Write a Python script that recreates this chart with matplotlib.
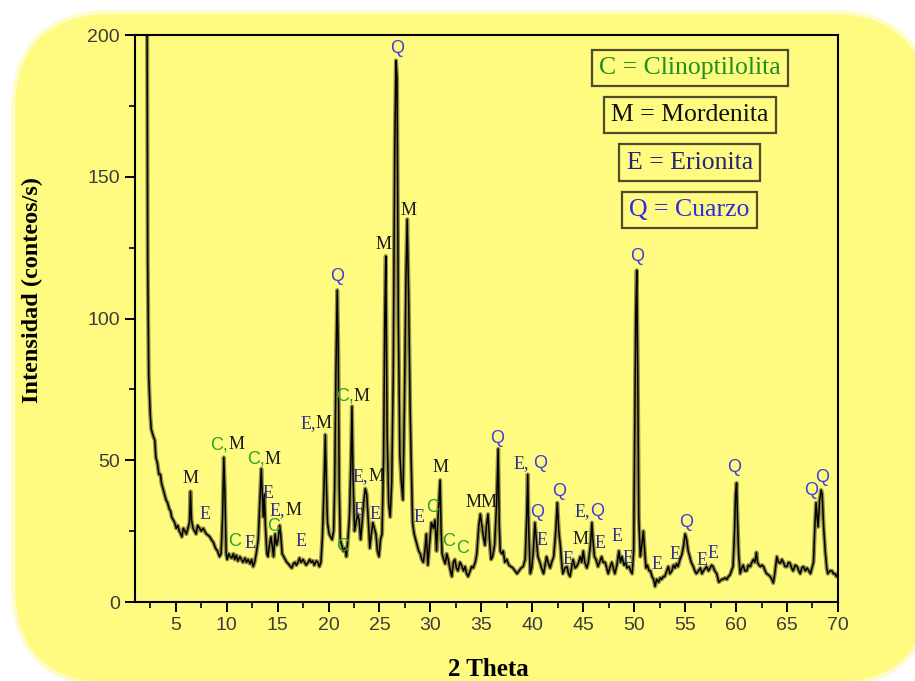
import matplotlib
matplotlib.use("Agg")
import matplotlib.pyplot as plt
from matplotlib.patches import FancyBboxPatch

# 2-theta / intensity
two_theta = [
    2.15, 2.25, 2.35, 2.5, 2.6, 2.75, 2.95, 3.05, 3.2, 3.35, 3.5, 3.6, 3.75, 3.9, 4.05,
    4.2, 4.35, 4.5, 4.6, 4.75, 4.9, 5.05, 5.2, 5.35, 5.5, 5.6, 5.75, 5.9, 6.05, 6.2,
    6.35, 6.45, 6.55, 6.7, 6.85, 7.0, 7.15, 7.35, 7.5, 7.7, 7.85, 8.0, 8.2, 8.35, 8.5,
    8.7, 8.9, 9.1, 9.3, 9.45, 9.6, 9.72, 9.82, 9.95, 10.05, 10.2, 10.35, 10.5, 10.65, 10.8,
    10.95, 11.1, 11.3, 11.45, 11.6, 11.8, 11.95, 12.1, 12.3, 12.45, 12.6, 12.75, 12.9, 13.1, 13.25,
    13.4, 13.5, 13.6, 13.7, 13.8, 13.95, 14.05, 14.2, 14.35, 14.5, 14.6, 14.75, 14.9, 15.05, 15.2,
    15.3, 15.45, 15.6, 15.75, 15.9, 16.05, 16.25, 16.4, 16.55, 16.7, 16.85, 17.0, 17.15, 17.3, 17.5,
    17.65, 17.8, 18.0, 18.15, 18.3, 18.45, 18.6, 18.8, 18.95, 19.1, 19.25, 19.4, 19.55, 19.68, 19.8,
    19.9, 20.05, 20.2, 20.35, 20.5, 20.6, 20.72, 20.85, 20.95, 21.05, 21.15, 21.3, 21.45, 21.6, 21.75,
    21.9, 22.05, 22.2, 22.3, 22.4, 22.55, 22.7, 22.85, 23.0, 23.15, 23.3, 23.45, 23.6, 23.75, 23.9,
    24.05, 24.2, 24.35, 24.5, 24.65, 24.8, 24.95, 25.1, 25.25, 25.4, 25.52, 25.62, 25.75, 25.9, 26.05,
    26.2, 26.35, 26.5, 26.62, 26.72, 26.85, 27.0, 27.15, 27.3, 27.45, 27.6, 27.72, 27.85, 28.0, 28.1,
    28.25, 28.4, 28.55, 28.7, 28.85, 29.0, 29.15, 29.3, 29.45, 29.6, 29.75, 29.9, 30.1, 30.3, 30.45,
    30.6, 30.75, 30.95, 31.05, 31.15, 31.3, 31.45, 31.6, 31.75, 31.9, 32.1, 32.25, 32.4, 32.55, 32.7,
    32.9, 33.05, 33.25, 33.4, 33.55, 33.7, 33.9, 34.05, 34.2, 34.4, 34.55, 34.75, 34.9, 35.05, 35.2,
    35.35, 35.5, 35.65, 35.8, 35.95, 36.1, 36.3, 36.5, 36.65, 36.75, 36.85, 37.0, 37.15, 37.3, 37.5,
    37.7, 37.9, 38.1, 38.3, 38.5, 38.7, 38.9, 39.1, 39.3, 39.45, 39.55, 39.65, 39.8, 39.95, 40.1,
    40.25, 40.4, 40.55, 40.75, 40.9, 41.1, 41.25, 41.4, 41.55, 41.75, 41.9, 42.1, 42.3, 42.45, 42.6,
    42.75, 42.9, 43.0, 43.2, 43.4, 43.55, 43.7, 43.85, 44.0, 44.2, 44.35, 44.55, 44.7, 44.85, 45.0,
    45.15, 45.35, 45.5, 45.7, 45.85, 45.95, 46.1, 46.25, 46.45, 46.6, 46.8, 46.95, 47.15, 47.3, 47.45,
    47.6, 47.8, 47.95, 48.1, 48.3, 48.5, 48.65, 48.8, 49.0, 49.15, 49.3, 49.5, 49.65, 49.8, 49.95,
    50.05, 50.15, 50.25, 50.35, 50.45, 50.6, 50.75, 50.9, 51.0, 51.15, 51.3, 51.45, 51.6, 51.75, 51.9,
    52.05, 52.2, 52.4, 52.55, 52.7, 52.85, 53.0, 53.2, 53.35, 53.5, 53.7, 53.85, 54.0, 54.15, 54.3,
    54.5, 54.7, 54.85, 55.0, 55.15, 55.3, 55.45, 55.6, 55.8, 55.95, 56.1, 56.3, 56.5, 56.65, 56.8,
    57.0, 57.1, 57.3, 57.45, 57.6, 57.75, 57.9, 58.1, 58.3, 58.45, 58.6, 58.75, 58.9, 59.1, 59.25,
    59.4, 59.55, 59.7, 59.85, 59.95, 60.05, 60.15, 60.25, 60.4, 60.55, 60.7, 60.85, 61.05, 61.2, 61.4,
    61.55, 61.7, 61.85, 62.0, 62.1, 62.25, 62.4, 62.55, 62.7, 62.85, 63.0, 63.2, 63.35, 63.5, 63.65,
    63.8, 64.0, 64.15, 64.35, 64.5, 64.65, 64.8, 65.0, 65.15, 65.3, 65.45, 65.6, 65.8, 66.0, 66.15,
    66.3, 66.45, 66.6, 66.8, 66.95, 67.15, 67.3, 67.45, 67.6, 67.75, 67.85, 67.95, 68.05, 68.2, 68.35,
    68.45, 68.6, 68.75, 68.9, 69.0, 69.2, 69.4, 69.55, 69.7, 69.85, 70.0,
]
intensity = [
    260, 120, 80, 66, 61, 59, 57, 51, 49, 45, 45, 42, 40, 38, 36,
    35, 33, 32, 30, 29, 28, 26, 27, 25, 24, 23, 26, 25, 24, 26,
    28, 39, 29, 26, 25, 24, 27, 26, 25, 26, 25, 24, 23.5, 23, 22,
    21, 19, 18, 16, 17, 30, 51, 40, 17, 15, 17, 16, 15.5, 17, 15,
    16.5, 14.5, 16, 15, 14, 15.5, 14, 15, 13.5, 15, 12.5, 14, 17, 22, 35,
    47, 38, 30, 38, 27, 17, 16, 20, 23, 19, 16, 24, 20, 22, 27,
    24, 17, 16, 15, 14, 13.5, 12.5, 12, 13.5, 14, 13, 14, 15.5, 14, 15,
    14, 13, 14, 15, 14, 14.5, 13, 14.5, 14, 12.5, 14, 23, 40, 59, 40,
    28, 24, 23, 22, 25, 40, 80, 110, 90, 40, 22, 20, 18, 19, 16,
    22, 30, 50, 69, 45, 25, 28, 31, 29, 22, 28, 35, 40, 38, 29,
    19, 24, 28, 26, 24, 18, 16, 22, 24, 50, 100, 122, 60, 35, 30,
    42, 80, 160, 191, 185, 100, 52, 42, 36, 70, 115, 135, 110, 70, 52,
    28, 24, 22, 20, 18, 17, 15, 14, 18, 24, 13, 20, 28, 26, 29,
    18, 30, 43, 25, 17, 15, 13.5, 17, 15, 12, 9, 14, 15, 12, 11,
    14, 13, 11, 12.5, 10, 9, 11, 12.5, 12, 14, 17, 27, 31, 27, 23,
    20, 27, 31, 22, 15, 16, 20, 35, 54, 28, 18, 17, 18, 14, 15,
    13, 12.5, 12, 11, 10, 11, 12, 12.5, 15, 30, 45, 25, 10, 12, 18,
    28, 22, 16, 14, 12, 10, 13, 16, 14, 12, 14, 16, 25, 35, 25,
    20, 13, 10, 12, 12.5, 10, 9, 12, 15, 12, 12.5, 14, 16, 14, 18,
    14, 12, 14, 20, 28, 22, 16, 15, 12.5, 14, 16, 14, 14, 12, 10,
    12, 14, 12, 10, 13, 18, 14, 16, 13, 14, 12, 12.5, 11, 10, 18,
    60, 100, 117, 80, 30, 16, 20, 25, 20, 12, 13, 11, 11, 9, 8,
    5.5, 8, 7, 8.5, 8, 9, 9, 11, 12.5, 10, 11, 13, 12, 13.5, 12.5,
    15, 17, 20, 24, 22, 18, 16, 14, 12.5, 11, 10, 11, 12, 10, 11,
    12, 12.5, 11, 12, 13, 12.5, 11, 10, 7, 7.5, 8, 8, 8.5, 8, 9,
    9.5, 11, 12.5, 25, 38, 42, 28, 17, 10, 12, 13, 11, 11, 13, 12.5,
    14, 15, 14, 17.5, 14, 13, 12.5, 13, 12.5, 11, 10, 9.5, 9, 8, 6.7,
    10, 16, 14, 13.7, 15, 14, 12.5, 12.5, 14, 13.7, 12, 11, 13, 12.5, 11,
    10, 12, 12.5, 11, 12, 11, 10, 12, 14, 28, 35, 30, 26.5, 36, 39.5,
    38, 26, 18, 12, 10, 11, 11, 10, 10, 9, 10,
]

# phase labels: text, 2theta, intensity (where "," splits two colours)
label_text = ["M", "E", "C,M", "C", "E", "C,M", "E", "C", "E,M", "E",
              "E,M", "Q", "C", "C,M", "E", "E,M", "E", "M", "Q", "M",
              "E", "C", "M", "C", "C", "MM", "Q", "E, Q", "Q", "E",
              "Q", "E", "M", "E,Q", "E", "E", "E", "Q", "E", "E",
              "Q", "E", "E", "Q", "Q", "Q"]
label_x = [6.45, 7.9, 10.15, 10.8, 12.3, 13.75, 14.1, 14.65, 15.75, 17.3,
           18.75, 20.85, 21.4, 22.5, 23.0, 23.9, 24.6, 25.4, 26.7, 27.85,
           28.9, 30.2, 30.95, 31.75, 33.2, 35.0, 36.5, 39.7, 40.5, 41.0,
           42.6, 43.55, 44.7, 45.7, 46.6, 48.35, 49.35, 50.25, 52.2, 54.0,
           55.05, 56.65, 57.7, 59.85, 67.4, 68.45]
label_y = [43.4, 31, 55.4, 21.5, 20.8, 50.4, 38.2, 26.6, 32.2, 21.5,
           63, 114.7, 19.5, 72.6, 32.2, 44.4, 31, 126, 195.4, 138,
           29.9, 33.3, 47.3, 21.5, 19, 35, 57.5, 48.7, 31.7, 21.6,
           38.9, 15, 21.9, 31.8, 20.5, 23, 15.2, 121.8, 13.4, 16.6,
           28, 14.8, 17.2, 47.5, 39.5, 44]

legend_lines = ["C = Clinoptilolita", "M = Mordenita", "E = Erionita", "Q = Cuarzo"]

PHASE_COL = {"C": "#2ea02e", "M": "#1a1a1a", "E": "#2e2e8c", "Q": "#3d3ddc"}
LEG_COL = ["#1f8f1f", "#111111", "#23237a", "#2c2ce0"]
SERIF = ["Liberation Serif", "DejaVu Serif"]
SANS = ["Liberation Sans", "DejaVu Sans"]
YELLOW = "#fffb80"

fig = plt.figure(figsize=(9.15, 6.81), dpi=100)

# rounded yellow panel behind everything, in pixel units
bg = fig.add_axes([0, 0, 1, 1], zorder=0)
bg.set_xlim(0, 915)
bg.set_ylim(681, 0)
bg.axis("off")
bg.add_patch(FancyBboxPatch((13, 12), 917, 673, boxstyle="round,pad=0,rounding_size=100",
                            fc=YELLOW, ec="#fffcc8", lw=3))

ax = fig.add_axes([0.1475, 0.116, 0.7683, 0.8326], zorder=1)
ax.patch.set_alpha(0)

ax.plot(two_theta, intensity, color="#7a7638", lw=3.0, alpha=0.8, solid_joinstyle="round")
ax.plot(two_theta, intensity, color="black", lw=1.1)

ax.set_xlim(1, 70)
ax.set_ylim(0, 200)
ax.set_xticks(range(5, 71, 5))
ax.set_xticks([x + 2.5 for x in range(0, 70, 5)], minor=True)
ax.set_yticks([0, 50, 100, 150, 200])
ax.set_yticks([25, 75, 125, 175], minor=True)
ax.tick_params(which="major", direction="out", length=7, width=1.4, labelsize=14,
               labelcolor="#3c3c3c", pad=4)
ax.tick_params(which="minor", direction="out", length=4, width=1.2)
for lab in ax.get_xticklabels() + ax.get_yticklabels():
    lab.set_family(SANS)
for sp in ax.spines.values():
    sp.set_linewidth(1.5)


def put_label(txt, x, y):
    parts = txt.split(",")
    if len(parts) == 1:
        segs = [(txt, "center")]
    else:
        segs = [(parts[0] + ",", "right"), (parts[1], "left")]
    for s, ha in segs:
        key = s.strip(", ")[0]
        fam = SANS if key in "CQ" else SERIF
        ax.text(x, y, s, color=PHASE_COL[key], ha=ha, va="center",
                fontsize=13, family=fam)


for t, x, y in zip(label_text, label_x, label_y):
    put_label(t, x, y)

for i, (line, col) in enumerate(zip(legend_lines, LEG_COL)):
    ax.text(0.789, 0.942 - i * 0.0835, line, transform=ax.transAxes, ha="center",
            va="center", fontsize=18.5, family=SERIF, color=col,
            bbox=dict(boxstyle="square,pad=0.28", fc="none", ec="#4d4d2e", lw=1.6))

fig.text(32 / 915, 1 - 290 / 681, "Intensidad (conteos/s)", rotation=90, ha="center",
         va="center", fontsize=17.5, fontweight="bold", family=SERIF)
fig.text(488 / 915, 1 - 670 / 681, "2 Theta", ha="center", va="center",
         fontsize=18, fontweight="bold", family=SERIF)

fig.savefig("out.png", dpi=100)
